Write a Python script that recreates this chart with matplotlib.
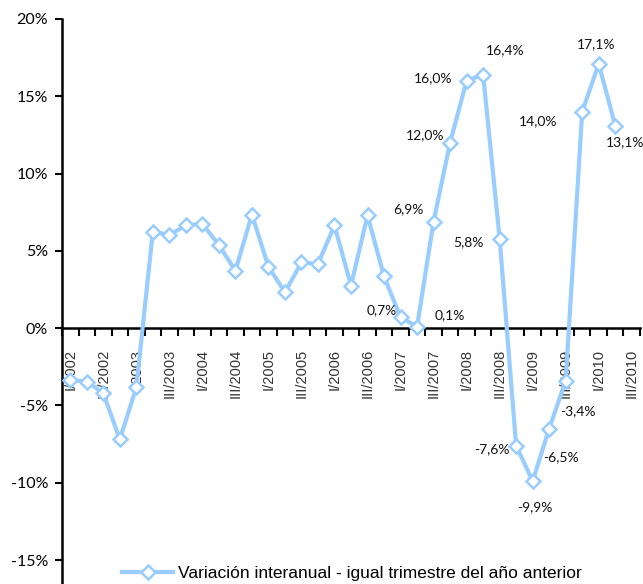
import numpy as np
import matplotlib.pyplot as plt
from matplotlib.ticker import FixedLocator, FuncFormatter

# quarters I/2002 .. III/2010 (last quarter has no data)
years = list(range(2002, 2011))
romans = ["I", "II", "III", "IV"]
quarters = [f"{r}/{y}" for y in years for r in romans][:35]

values = [-3.35, -3.46, -4.2, -7.2,
          -3.83, 6.24, 6.03, 6.65,
          6.75, 5.37, 3.72, 7.35,
          3.97, 2.33, 4.25, 4.15,
          6.65, 2.76, 7.29, 3.35,
          0.7, 0.1, 6.9, 12.0,
          16.0, 16.4, 5.8, -7.6,
          -9.9, -6.5, -3.4, 14.0,
          17.1, 13.1, np.nan]

# data labels shown on the chart: index -> text, offset in pixels
labels = {20: ("0,7%", (-19, 7)), 21: ("0,1%", (33, 11)),
          22: ("6,9%", (-25, 12)), 23: ("12,0%", (-25, 8)),
          24: ("16,0%", (-33, 3)), 25: ("16,4%", (22, 24)),
          26: ("5,8%", (-31, -4)), 27: ("-7,6%", (-24, -4)),
          28: ("-9,9%", (2, -26)), 29: ("-6,5%", (12, -29)),
          30: ("-3,4%", (12, -30)), 31: ("14,0%", (-44, -9)),
          32: ("17,1%", (-3, 20)), 33: ("13,1%", (10, -16))}

blue = "#99ccff"
x = np.arange(len(quarters))

fig = plt.figure(figsize=(6.43, 5.84), dpi=100)
ax = fig.add_axes([62/643, 0, 578/643, 1 - 19/584])

ax.plot(x, values, color=blue, lw=3, marker="D", ms=7, mfc="white",
        mec=blue, mew=1.8, label="Variación interanual - igual trimestre del año anterior",
        zorder=3)

for i, (txt, off) in labels.items():
    ax.annotate(txt, (x[i], values[i]), xytext=off, textcoords="offset pixels",
                ha="center", va="center", fontsize=10, family="Lato", color="#111111")

ax.set_xlim(-0.5, 34.5)
ax.set_ylim(-16.55, 20)

ax.set_yticks([-15, -10, -5, 0, 5, 10, 15, 20])
ax.yaxis.set_major_formatter(FuncFormatter(lambda v, p: f"{v:.0f}%"))
ax.tick_params(axis="y", direction="out", length=5, width=1.5, labelsize=11.5, pad=5)
for t in ax.get_yticklabels():
    t.set_family("Lato")

# x axis at zero, tick marks between categories, labels every second quarter
ax.spines["bottom"].set_position(("data", 0))
ax.spines["bottom"].set_linewidth(1.8)
ax.spines["left"].set_linewidth(1.8)
ax.spines["top"].set_visible(False)
ax.spines["right"].set_visible(False)
ax.xaxis.set_major_locator(FixedLocator(x[::2]))
ax.set_xticklabels(quarters[::2], rotation=90, fontsize=10.5, family="Liberation Sans",
                   va="top", color="#333333")
ax.xaxis.set_minor_locator(FixedLocator(np.arange(-0.5, 35, 1)))
ax.tick_params(axis="x", which="major", length=0, pad=15)
ax.tick_params(axis="x", which="minor", direction="out", length=6, width=1.5)

fig.legend(loc="center", bbox_to_anchor=(352/643, 1 - 573/584), frameon=False,
           prop={"family": "Liberation Sans", "size": 12.5}, handlelength=2.9,
           handletextpad=0.3)

plt.savefig("out.png", dpi=100)
